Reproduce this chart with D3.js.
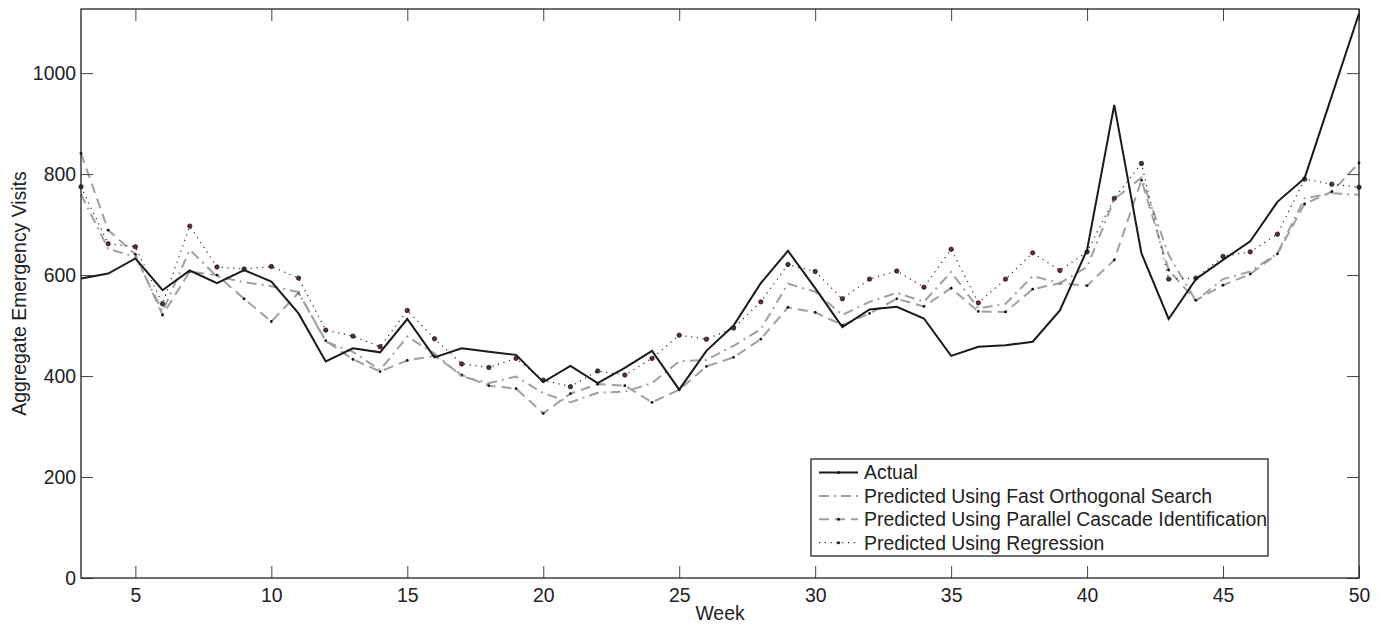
<!DOCTYPE html>
<html>
<head>
<meta charset="utf-8">
<script src="https://cdn.jsdelivr.net/npm/d3@7"></script>
<style>
  body { margin: 0; background: #fff; }
  svg { display: block; font-family: "Liberation Sans", Arial, Helvetica, sans-serif; }
</style>
</head>
<body>
<svg id="chart"></svg>
<script>
// Weekly data
const weeks = [3, 4, 5, 6, 7, 8, 9, 10, 11, 12, 13, 14, 15, 16, 17, 18, 19, 20, 21, 22, 23, 24, 25, 26,
    27, 28, 29, 30, 31, 32, 33, 34, 35, 36, 37, 38, 39, 40, 41, 42, 43, 44, 45, 46, 47, 48, 49, 50];

const actual = [593, 603, 633, 570, 609, 584, 610, 587, 524, 429, 455, 447, 513, 437, 455, 448, 442, 388,
    420, 386, 416, 450, 373, 450, 500, 584, 648, 574, 497, 532, 537, 514, 440, 458, 461, 468, 530, 650,
    937, 643, 513, 592, 630, 667, 745, 792, 955, 1118];

const fastOrthogonal = [760, 652, 636, 528, 650, 597, 586, 578, 566, 468, 448, 412, 478, 445, 399, 386,
    399, 366, 348, 367, 369, 386, 429, 432, 460, 493, 583, 567, 521, 547, 565, 547, 606, 534, 543, 598,
    584, 616, 750, 793, 640, 549, 592, 607, 643, 752, 762, 759];

const parallelCascade = [841, 689, 641, 521, 607, 600, 553, 508, 565, 470, 433, 409, 431, 440, 402, 381,
    375, 326, 365, 384, 381, 348, 373, 419, 437, 473, 536, 526, 501, 524, 553, 538, 574, 528, 527, 572,
    584, 579, 630, 788, 610, 550, 580, 602, 642, 741, 765, 822];

const regression = [775, 662, 656, 543, 697, 616, 612, 617, 594, 491, 479, 458, 530, 474, 424, 417, 435,
    392, 379, 410, 402, 435, 481, 473, 495, 547, 621, 607, 553, 592, 608, 576, 651, 545, 592, 644, 609,
    646, 752, 821, 592, 594, 637, 646, 681, 790, 780, 774];

const xTicks = [5, 10, 15, 20, 25, 30, 35, 40, 45, 50];
const yTicks = [0, 200, 400, 600, 800, 1000];

const seriesNames = [
    "Actual",
    "Predicted Using Fast Orthogonal Search",
    "Predicted Using Parallel Cascade Identification",
    "Predicted Using Regression"
];

function drawChart() {
    const width = 1381;
    const height = 626;
    const margin = { top: 9, right: 22, bottom: 48, left: 81 };
    const fontSize = 19.4;

    const svg = d3.select("#chart")
        .attr("width", width)
        .attr("height", height);

    const x = d3.scaleLinear()
        .domain([3, 50])
        .range([margin.left, width - margin.right]);

    const y = d3.scaleLinear()
        .domain([0, 1127])
        .range([height - margin.bottom, margin.top]);

    // series styles (MATLAB-ish)
    const series = [
        { name: seriesNames[0], values: actual, color: "#1a1a1a", width: 2, dash: null, marker: "none" },
        { name: seriesNames[1], values: fastOrthogonal, color: "#a0a0a0", width: 2, dash: "10,5,2,5", marker: "none" },
        { name: seriesNames[2], values: parallelCascade, color: "#a0a0a0", width: 2, dash: "10,6", marker: "small" },
        { name: seriesNames[3], values: regression, color: "#2a2a2a", width: 1.2, dash: "1.2,4.6", marker: "circle" }
    ];

    const line = d3.line()
        .x((d, i) => x(weeks[i]))
        .y(d => y(d));

    const plot = svg.append("g");

    // draw gray ones first, then regression, actual on top
    const order = [2, 1, 3, 0];
    order.forEach(k => {
        const s = series[k];
        plot.append("path")
            .datum(s.values)
            .attr("fill", "none")
            .attr("stroke", s.color)
            .attr("stroke-width", s.width)
            .attr("stroke-dasharray", s.dash)
            .attr("stroke-linejoin", "miter")
            .attr("d", line);

        if (s.marker === "small") {
            plot.append("g")
                .selectAll("circle")
                .data(s.values)
                .join("circle")
                .attr("cx", (d, i) => x(weeks[i]))
                .attr("cy", d => y(d))
                .attr("r", 1.4)
                .attr("fill", "#111");
        }
        if (s.marker === "circle") {
            plot.append("g")
                .selectAll("circle")
                .data(s.values)
                .join("circle")
                .attr("cx", (d, i) => x(weeks[i]))
                .attr("cy", d => y(d))
                .attr("r", 2.2)
                .attr("fill", "#5b2a4e")
                .attr("stroke", "#111")
                .attr("stroke-width", 0.7);
        }
    });

    // axes, ticks pointing inward like MATLAB
    const tickLen = 12;
    const axisColor = "#222";

    const xAxis = svg.append("g")
        .attr("transform", `translate(0,${height - margin.bottom})`)
        .call(d3.axisBottom(x).tickValues(xTicks).tickSizeInner(-tickLen).tickSizeOuter(0).tickPadding(10));

    const xAxisTop = svg.append("g")
        .attr("transform", `translate(0,${margin.top})`)
        .call(d3.axisTop(x).tickValues(xTicks).tickSizeInner(-tickLen).tickSizeOuter(0).tickFormat(""));

    const yAxis = svg.append("g")
        .attr("transform", `translate(${margin.left},0)`)
        .call(d3.axisLeft(y).tickValues(yTicks).tickFormat(d3.format("d"))
            .tickSizeInner(-tickLen).tickSizeOuter(0).tickPadding(5));

    const yAxisRight = svg.append("g")
        .attr("transform", `translate(${width - margin.right},0)`)
        .call(d3.axisRight(y).tickValues(yTicks).tickSizeInner(-tickLen).tickSizeOuter(0).tickFormat(""));

    [xAxis, xAxisTop, yAxis, yAxisRight].forEach(g => {
        g.select(".domain").remove();
        g.selectAll(".tick line").attr("stroke", "#444").attr("stroke-width", 1);
        g.selectAll(".tick text")
            .attr("fill", axisColor)
            .style("font-size", fontSize + "px")
            .style("font-family", "'Liberation Sans', Arial, Helvetica, sans-serif");
    });

    // box around the plot
    svg.append("rect")
        .attr("x", x(3))
        .attr("y", y(1127))
        .attr("width", x(50) - x(3))
        .attr("height", y(0) - y(1127))
        .attr("fill", "none")
        .attr("stroke", axisColor)
        .attr("stroke-width", 1.3);

    // axis labels
    svg.append("text")
        .attr("x", (x(3) + x(50)) / 2)
        .attr("y", 620)
        .attr("text-anchor", "middle")
        .attr("fill", axisColor)
        .style("font-size", fontSize + "px")
        .text("Week");

    svg.append("text")
        .attr("transform", `translate(25.5,${(y(0) + y(1127)) / 2}) rotate(-90)`)
        .attr("text-anchor", "middle")
        .attr("fill", axisColor)
        .style("font-size", fontSize + "px")
        .text("Aggregate Emergency Visits");

    // legend
    const legend = svg.append("g")
        .attr("transform", "translate(811,459)");

    legend.append("rect")
        .attr("width", 457)
        .attr("height", 97)
        .attr("fill", "#fff")
        .attr("stroke", axisColor)
        .attr("stroke-width", 1.3);

    const rowH = 23.4;
    series.forEach((s, i) => {
        const cy = 13.5 + i * rowH;
        legend.append("line")
            .attr("x1", 8)
            .attr("x2", 47)
            .attr("y1", cy)
            .attr("y2", cy)
            .attr("stroke", s.color)
            .attr("stroke-width", s.width)
            .attr("stroke-dasharray", s.dash);
        if (s.marker !== "none" || i === 0) {
            legend.append("circle")
                .attr("cx", 27.5)
                .attr("cy", cy)
                .attr("r", 1.5)
                .attr("fill", "#111");
        }
        legend.append("text")
            .attr("x", 53)
            .attr("y", cy)
            .attr("dy", "0.36em")
            .attr("fill", axisColor)
            .style("font-size", fontSize + "px")
            .text(s.name);
    });
}

drawChart();
</script>
</body>
</html>
